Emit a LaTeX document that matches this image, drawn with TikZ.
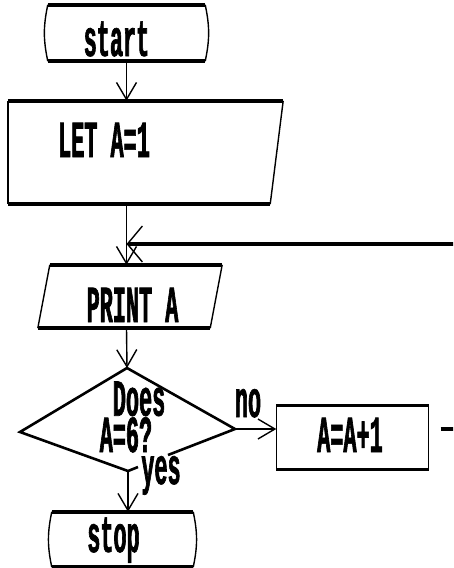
\documentclass[tikz,border=0pt]{standalone}
\usepackage{fontspec}
\newfontfamily\dotfont[FakeStretch=0.42, BoldFeatures={FakeBold=1.2}]{Liberation Mono}
\usetikzlibrary{arrows.meta}

\begin{document}
\begin{tikzpicture}[x=1pt, y=-1pt,
  >={Straight Barb[length=17pt,width=20pt,line width=1.4pt]},
  every node/.style={inner sep=0pt},
  txt/.style={font=\dotfont\bfseries\fontsize{52}{32}\selectfont, anchor=base},
  heavy/.style={line width=3.5pt},
  light/.style={line width=1.4pt},
  jagged/.style={line width=2.6pt}]
\useasboundingbox (0,0) rectangle (453,568);
\clip (0,0) rectangle (453,568);

% boxes
\node[minimum width=157pt, minimum height=56pt] (start) at (126.5,33) {};
\node[minimum width=275pt, minimum height=103pt] (let) at (145.5,152.5) {};
\node[minimum width=184pt, minimum height=63pt] (print) at (130,296.5) {};
\node[minimum width=152pt, minimum height=64pt] (incr) at (352.5,437.5) {};
\node[minimum width=141pt, minimum height=55pt] (stop) at (122.5,539.5) {};

% decision
\coordinate (dtop) at (127,368);
\coordinate (dright) at (235,429);
\coordinate (dbot) at (128,471);
\coordinate (dleft) at (20,432);
\coordinate (dgap) at (168,455);
\coordinate (dstub) at (138,467);
\coordinate (join) at (126.5,244);

% texts
\node[txt] (starttxt) at (116.5,56) {start};
\node[txt] (lettxt) at (104,157) {LET A=1};
\node[txt] (printtxt) at (132.5,322) {PRINT A};
\node[txt, align=left] (testtxt) at (132.5,452) {\hphantom{D}Does\\A=6?};
\node[txt] (notxt) at (248,417) {no};
\node[txt] (yestxt) at (161,484) {yes};
\node[txt] (incrtxt) at (350,452) {A=A+1};
\node[txt] (stoptxt) at (113.5,552) {stop};

% start
\draw[heavy] (start.north west) -- (start.north east);
\draw[heavy] (start.south west) -- (start.south east);
\draw[light] (start.north west) to[bend right=12] (start.south west);
\draw[light] (start.north east) to[bend left=12] (start.south east);

% let
\coordinate (letbr) at ([xshift=-13pt]let.south east);
\draw[heavy] (let.north west) -- (let.north east);
\draw[heavy] (let.south west) -- (letbr);
\draw[light] (let.north west) -- (let.south west);
\draw[light] (let.north east) -- (letbr);

% print
\coordinate (printtl) at ([xshift=12pt]print.north west);
\coordinate (printbr) at ([xshift=-12pt]print.south east);
\draw[heavy] (printtl) -- (print.north east);
\draw[heavy] (print.south west) -- (printbr);
\draw[light] (printtl) -- (print.south west);
\draw[light] (print.north east) -- (printbr);

% test
\draw[jagged] (dgap) -- (dright) -- (dtop) -- (dleft) -- (dbot) -- (dstub);

% increment
\draw[heavy] (incr.north west) -- (incr.north east);
\draw[line width=2.6pt] (incr.south west) -- (incr.south east);
\draw[light] (incr.north west) -- (incr.south west);
\draw[light] (incr.north east) -- (incr.south east);

% stop
\draw[heavy] (stop.north west) -- (stop.north east);
\draw[heavy] (stop.south west) -- (stop.south east);
\draw[light] (stop.north west) to[bend right=12] (stop.south west);
\draw[light] (stop.north east) to[bend left=12] (stop.south east);

% flow
\draw[light, ->] (start.south) -- (start.south |- let.north);
\draw[light] (join |- let.south) -- (join);
\draw[light, ->] (join) -- (join |- print.north);
\draw[light, ->] (join |- print.south) -- (dtop);
\draw[light, ->] (dbot) -- (dbot |- stop.north);
\draw[jagged, ->] (dright) -- (dright -| incr.west);
\draw[heavy, -{Straight Barb[length=15pt,width=36pt,line width=1.4pt]}]
  ([xshift=12pt]incr.east |- dright) -- ++(40,0) |- (join);
\end{tikzpicture}
\end{document}
